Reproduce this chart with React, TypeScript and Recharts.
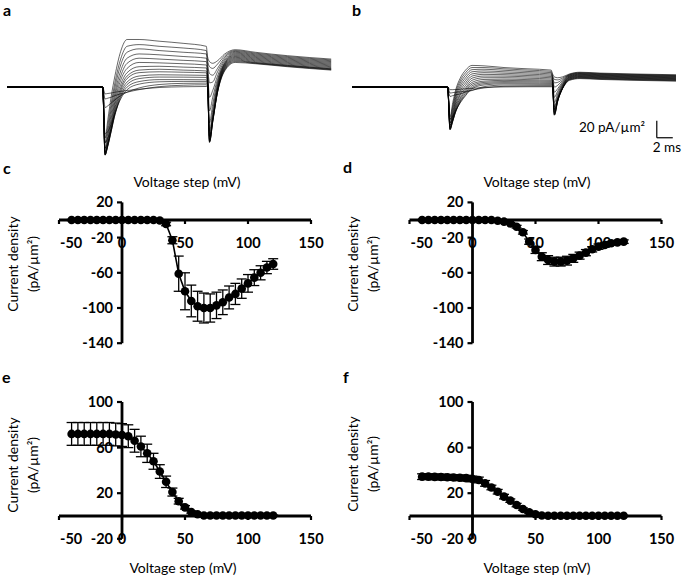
import { LineChart, Line, XAxis, YAxis, ReferenceLine, ReferenceDot, ErrorBar } from 'recharts'

const FONT = 'Lato, "Open Sans", sans-serif'

// ---- panels a / b : current traces (time in ms, current density in pA/um2) ----
const tA = [0, 11.95, 12.25, 12.6, 13.0, 13.5, 14.2, 15, 16.5, 19, 22, 24.9, 25.05, 25.3, 25.7, 26.3, 27.2, 28.5, 31, 35, 40.5]

const tracesA = [
  [0, 0, -60, -38, -12, 14, 42, 56, 56, 54, 51.5, 48, 36, 30, 28, 31, 39, 44, 41, 37, 33],
  [0, 0, -66, -45, -20, 6, 33, 48, 50, 48, 46, 43, 32, 24, 22, 27, 37, 43, 40, 36, 32],
  [0, 0, -72, -52, -26, 0, 26, 41, 45, 43, 41, 39, 28, 16, 14, 22, 35, 42, 39, 35, 31],
  [0, 0, -77, -58, -32, -6, 19, 34, 39, 38, 36, 34, 24, 5, 6, 18, 33, 41, 38, 34, 30],
  [0, 0, -80, -62, -38, -11, 13, 28, 34, 33, 31.5, 30, 20, -12, -4, 13, 31, 40, 37, 33, 29],
  [0, 0, -80, -66, -43, -16, 8, 22, 29, 28.5, 27.5, 26, 16, -28, -12, 9, 29, 39, 36, 32, 28],
  [0, 0, -80, -68, -47, -20, 3, 17, 24, 24.5, 23.5, 22.5, 12, -42, -20, 6, 28, 38, 35, 31, 27],
  [0, 0, -79, -69, -50, -24, -1, 13, 20, 21, 20, 19, 10, -52, -27, 3, 27, 37, 34, 30, 26],
  [0, 0, -78, -69, -52, -27, -4, 10, 17, 18, 17.5, 16.8, 8, -58, -32, 1, 26, 36, 33, 29, 25],
  [0, 0, -76, -68, -53, -30, -7, 6, 13, 14.5, 14.2, 13.8, 7, -62, -36, -1, 25, 35, 32, 28, 24],
  [0, 0, -72, -65, -52, -32, -10, 3, 10, 11.8, 11.7, 11.4, 5, -64, -38, -3, 24, 34, 31, 27, 23],
  [0, 0, -65, -60, -49, -32, -12, 0, 6.5, 8.8, 8.8, 8.6, 4, -65, -40, -4, 23, 33, 30, 26, 22],
  [0, 0, -55, -52, -44, -30, -14, -3, 3.5, 6.2, 6.7, 6.7, 3, -65, -41, -5, 22, 32, 29, 25.5, 21.5],
  [0, 0, -24, -22, -19, -15, -10, -6, -1, 3, 4.4, 4.7, 2, -64, -41, -6, 21, 31, 28.5, 25, 21],
  [0, 0, -14, -13, -12, -10, -8, -6, -3, 0.5, 2.2, 2.7, 1, -62, -40, -6, 20, 30, 28, 24.5, 20.5],
  [0, 0, -8, -7.5, -7, -6, -5, -4, -2.5, -0.5, 0.4, 0.7, 0, -58, -38, -6, 19, 29, 27.5, 24, 20],
]

const tracesB = [
  [0, 0, -35, -18, -2, 10, 20, 25.5, 25, 23, 21.5, 20, 16, 12, 11, 12, 15.5, 17.5, 16.5, 15.5, 14.5],
  [0, 0, -38, -22, -5, 7, 17, 23, 23, 21.5, 20, 18.5, 14.5, 9, 8.5, 10.5, 15, 17, 16, 15, 14],
  [0, 0, -42, -25, -8, 4, 14, 20.5, 21, 19.8, 18.4, 17, 13, 5, 5.5, 9, 14.5, 16.5, 15.5, 14.5, 13.5],
  [0, 0, -45, -29, -11, 1, 11, 18, 19, 18, 16.8, 15.5, 12, 0, 2, 7.5, 14, 16, 15, 14, 13],
  [0, 0, -48, -32, -14, -2, 8, 15.5, 17, 16.3, 15.2, 14, 10.5, -6, -2, 6, 13.5, 15.5, 14.5, 13.5, 12.5],
  [0, 0, -50, -35, -17, -5, 5, 13, 15, 14.6, 13.6, 12.5, 9, -12, -5, 4.5, 13, 15, 14, 13, 12],
  [0, 0, -50, -37, -20, -8, 2, 10.5, 13, 12.9, 12, 11, 8, -18, -8, 3, 12.5, 14.5, 13.5, 12.5, 11.5],
  [0, 0, -50, -39, -23, -10, -1, 8, 11, 11.1, 10.4, 9.5, 7, -23, -11, 2, 12, 14, 13, 12, 11],
  [0, 0, -49, -40, -25, -13, -3, 5.5, 9, 9.4, 8.8, 8, 6, -27, -13, 1, 11.5, 13.5, 12.5, 11.5, 10.5],
  [0, 0, -47, -40, -27, -15, -5, 3.5, 7, 7.9, 7.5, 6.8, 5, -30, -15, 0, 11, 13, 12, 11, 10],
  [0, 0, -45, -39, -28, -17, -7, 1.5, 5.5, 6.5, 6.2, 5.6, 4, -32, -16, -1, 10.5, 12.5, 11.5, 10.5, 9.5],
  [0, 0, -42, -37, -28, -18, -9, -0.5, 4, 5.2, 4.9, 4.4, 3, -33, -17, -1.5, 10, 12, 11, 10, 9],
  [0, 0, -38, -34, -27, -19, -10, -2, 2.5, 3.9, 3.7, 3.3, 2, -33, -17, -2, 9.5, 11.5, 10.5, 9.5, 8.5],
  [0, 0, -11, -10, -9, -8, -6, -4, 0.5, 2.4, 2.4, 2.2, 1.5, -32, -17, -2, 9, 11, 10, 9, 8],
  [0, 0, -7, -6.5, -6, -5.5, -5, -3.5, -1, 0.9, 1.2, 1.2, 1, -30, -16, -2, 8.5, 10.5, 9.5, 8.5, 7.5],
  [0, 0, -3, -3, -2.8, -2.5, -2, -1.5, -0.5, 0.2, 0.4, 0.4, 0.3, -26, -14, -2, 8, 10, 9, 8, 7],
]

// scale bar (20 pA/um2, 2 ms)
const barT = 38.1
const barI = -59.6

// ---- panels c-f : I-V curves ----
const steps = [-40, -35, -30, -25, -20, -15, -10, -5, 0, 5, 10, 15, 20, 25, 30, 35, 40, 45, 50, 55, 60, 65, 70, 75, 80, 85, 90, 95, 100, 105, 110, 115, 120]

const cMean = [0, 0, 0, 0, 0, 0, 0, 0, 0, 0, 0, 0, 0, 0, -0.5, -4.5, -23, -61, -81, -92, -98, -100, -100, -97, -93.5, -88, -84, -78, -72, -65.5, -60, -54, -50]
const cErr = [0.5, 0.5, 0.5, 0.5, 0.5, 0.5, 0.5, 0.5, 0.5, 0.5, 0.5, 0.5, 0.5, 0.5, 0.5, 2, 4, 20, 21, 18, 17, 17, 16, 15, 14, 13, 12, 11, 10, 9, 8, 7, 6]

const dMean = [0, 0, 0, 0, 0, 0, 0, 0, 0, 0, 0, 0, -0.8, -1.9, -3.8, -7.6, -14, -24.6, -34, -41.7, -45.5, -47.3, -47.3, -46.2, -43.6, -40.5, -37.1, -33.3, -30.3, -28.4, -26.5, -25.4, -24.6]
const dErr = [0.5, 0.5, 0.5, 0.5, 0.5, 0.5, 0.5, 0.5, 0.5, 0.5, 0.5, 0.5, 0.5, 0.5, 1, 1.5, 2, 3, 4, 4.5, 5, 5, 5, 5, 4.5, 4, 3.5, 3, 3, 2.5, 2, 2, 2]

const eMean = [72, 72, 72, 72, 72, 72, 72, 71.5, 71, 70, 66, 61, 55, 48, 39, 30, 21, 13, 7.6, 3.5, 1.5, 0.5, 0.5, 0.5, 0.5, 0.5, 0.5, 0.5, 0.5, 0.5, 0.5, 0.5, 0.5]
const eErr = [10, 10, 10, 10, 10, 10, 10, 10, 10, 10, 10, 9, 8, 7, 6, 5, 3.5, 2.5, 1.5, 1, 0.5, 0.3, 0.3, 0.3, 0.3, 0.3, 0.3, 0.3, 0.3, 0.3, 0.3, 0.3, 0.3]

const fMean = [34.5, 34.5, 34.3, 34.2, 34, 33.8, 33.5, 33.2, 32.5, 31.6, 28.6, 25, 21.3, 17, 13.5, 9.6, 6.1, 3.2, 1.5, 0.5, 0.2, 0.2, 0.2, 0.2, 0.2, 0.2, 0.2, 0.2, 0.2, 0.2, 0.2, 0.2, 0.2]
const fErr = [2.5, 2.5, 2.5, 2.5, 2.5, 2.5, 2.5, 2.5, 2.5, 2.5, 2.5, 2, 2, 2, 1.5, 1.5, 1, 1, 0.5, 0.5, 0.2, 0.2, 0.2, 0.2, 0.2, 0.2, 0.2, 0.2, 0.2, 0.2, 0.2, 0.2, 0.2]

const xTicks = [-50, 0, 50, 100, 150]
const negTicks = [20, -20, -60, -100, -140]
const posTicks = [100, 60, 20, -20]

const traceRows = (traces: number[][]) =>
  tA.map((t, i) => {
    const row: Record<string, number> = { t }
    traces.forEach((tr, k) => { row['s' + k] = tr[i] })
    return row
  })

const ivRows = (mean: number[], err: number[]) => steps.map((v, i) => ({ v, i: mean[i], e: err[i] }))

const tickText = { fontFamily: FONT, fontWeight: 700, fontSize: 14.5, fill: '#000' }

const xTickShape = (label: number) => (p: any) => (
  <g>
    <line x1={p.cx} y1={p.cy} x2={p.cx} y2={p.cy + 4} stroke="#000" strokeWidth={2.2} />
    <text x={label === -50 ? p.cx + 1 : p.cx} y={p.cy + 23} dy="0.35em" textAnchor={label === -50 ? 'start' : 'middle'} {...tickText}>{label}</text>
  </g>
)

const yTickShape = (label: number) => (p: any) => (
  <g>
    <line x1={p.cx - 5} y1={p.cy} x2={p.cx} y2={p.cy} stroke="#000" strokeWidth={2.2} />
    <text x={p.cx - 9} y={p.cy} dy="0.35em" textAnchor="end" {...tickText}>{label}</text>
  </g>
)

type TraceProps = { traces: number[][], left: number, width: number, tMax: number, scaleBar?: boolean }

const TracePanel = ({ traces, left, width, tMax, scaleBar }: TraceProps) => (
  <div style={{ position: 'absolute', left, top: 31.2 }}>
    <LineChart width={width} height={129.2} data={traceRows(traces)} margin={{ top: 0, right: 0, bottom: 0, left: 0 }}>
      <XAxis type="number" dataKey="t" domain={[0, tMax]} hide allowDataOverflow />
      <YAxis type="number" domain={[-86, 66]} hide allowDataOverflow />
      {traces.map((_, k) => (
        <Line key={k} dataKey={'s' + k} type="monotone" stroke="#000" strokeWidth={0.6} dot={false} activeDot={false} isAnimationActive={false} />
      ))}
      {scaleBar && (
        <ReferenceLine segment={[{ x: barT, y: barI + 20 }, { x: barT, y: barI }]} stroke="#000" strokeWidth={1.2} ifOverflow="visible" />
      )}
      {scaleBar && (
        <ReferenceLine segment={[{ x: barT, y: barI }, { x: barT + 2, y: barI }]} stroke="#000" strokeWidth={1.2} ifOverflow="visible" />
      )}
    </LineChart>
  </div>
)

type IVProps = {
  mean: number[], err: number[], left: number, top: number, width: number, height: number,
  margin: { top: number, right: number, bottom: number, left: number }, yDomain: [number, number], yTicks: number[]
}

const IVPanel = ({ mean, err, left, top, width, height, margin, yDomain, yTicks }: IVProps) => (
  <div style={{ position: 'absolute', left, top }}>
    <LineChart width={width} height={height} data={ivRows(mean, err)} margin={margin}>
      <XAxis type="number" dataKey="v" domain={[-50, 150]} hide allowDataOverflow />
      <YAxis type="number" domain={yDomain} hide allowDataOverflow />
      <ReferenceLine y={0} stroke="#000" strokeWidth={2.8} ifOverflow="visible" />
      <ReferenceLine x={0} stroke="#000" strokeWidth={2.8} ifOverflow="visible" />
      {xTicks.map((v) => (
        <ReferenceDot key={'x' + v} x={v} y={0} r={0} ifOverflow="visible" shape={xTickShape(v)} />
      ))}
      {yTicks.map((v) => (
        <ReferenceDot key={'y' + v} x={0} y={v} r={0} ifOverflow="visible" shape={yTickShape(v)} />
      ))}
      <Line dataKey="i" type="linear" stroke="#000" strokeWidth={1.6}
        dot={{ r: 4.3, fill: '#000', stroke: '#000', strokeWidth: 0 }} activeDot={false} isAnimationActive={false}>
        <ErrorBar dataKey="e" width={5} stroke="#000" strokeWidth={1.3} direction="y" />
      </Line>
    </LineChart>
  </div>
)

const YLabel = ({ x, y }: { x: number, y: number }) => (
  <g transform={`translate(${x},${y}) rotate(-90)`} fontFamily={FONT} fontSize={14} fill="#000" textAnchor="middle">
    <text x={0} y={-5}>Current density</text>
    <text x={0} y={15}>(pA/µm²)</text>
  </g>
)

const letter = { fontFamily: FONT, fontWeight: 700, fontSize: 16, fill: '#000' }
const title = { fontFamily: FONT, fontSize: 14, fill: '#000', textAnchor: 'middle' as const }

export default function App() {
  return (
    <div style={{ position: 'absolute', left: 0, top: 0, width: 685, height: 577, background: '#fff', overflow: 'hidden' }}>
      <TracePanel traces={tracesA} left={7} width={325} tMax={40.6} />
      <TracePanel traces={tracesB} left={352} width={330} tMax={41.25} scaleBar />

      <IVPanel mean={cMean} err={cErr} left={0} top={165} width={340} height={200}
        margin={{ top: 37.4, right: 29, bottom: 21.8, left: 59 }} yDomain={[-140, 20]} yTicks={negTicks} />
      <IVPanel mean={dMean} err={dErr} left={340} top={165} width={345} height={200}
        margin={{ top: 37.4, right: 23.5, bottom: 21.8, left: 69.5 }} yDomain={[-140, 20]} yTicks={negTicks} />
      <IVPanel mean={eMean} err={eErr} left={0} top={370} width={340} height={207}
        margin={{ top: 32, right: 29, bottom: 38.2, left: 59 }} yDomain={[-20, 100]} yTicks={posTicks} />
      <IVPanel mean={fMean} err={fErr} left={340} top={370} width={345} height={207}
        margin={{ top: 32, right: 23.5, bottom: 38.2, left: 69.5 }} yDomain={[-20, 100]} yTicks={posTicks} />

      <svg width={685} height={577} style={{ position: 'absolute', left: 0, top: 0, pointerEvents: 'none' }}>
        <text x={3} y={16} {...letter}>a</text>
        <text x={352} y={16} {...letter}>b</text>
        <text x={3} y={174} {...letter}>c</text>
        <text x={343} y={173} {...letter}>d</text>
        <text x={2} y={383} {...letter}>e</text>
        <text x={343} y={383} {...letter}>f</text>

        <text x={187} y={187} {...title}>Voltage step (mV)</text>
        <text x={537} y={187} {...title}>Voltage step (mV)</text>
        <text x={183} y={573} {...title}>Voltage step (mV)</text>
        <text x={537} y={573} {...title}>Voltage step (mV)</text>

        <YLabel x={23} y={264} />
        <YLabel x={363} y={264} />
        <YLabel x={23} y={465} />
        <YLabel x={363} y={464} />

        <text x={645} y={132} fontFamily={FONT} fontSize={13.5} fill="#000" textAnchor="end">20 pA/µm²</text>
        <text x={681} y={152} fontFamily={FONT} fontSize={13.5} fill="#000" textAnchor="end">2 ms</text>
      </svg>
    </div>
  )
}
